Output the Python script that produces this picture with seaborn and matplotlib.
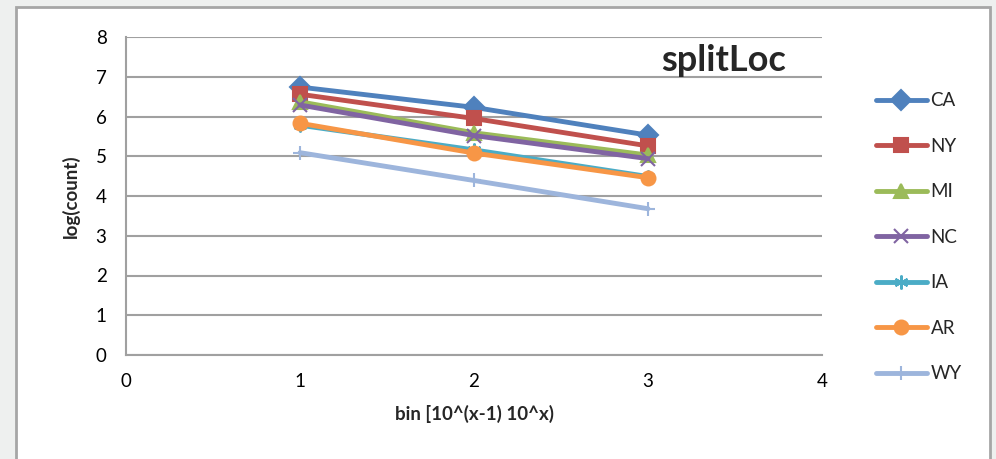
import matplotlib
matplotlib.use("Agg")
import matplotlib.pyplot as plt
from matplotlib.patches import Rectangle
import pandas as pd
import seaborn as sns

# Data: log(count) per bin for each state
bins = [1, 2, 3]
states = ["CA", "NY", "MI", "NC", "IA", "AR", "WY"]
ca = [6.74, 6.23, 5.53]
ny = [6.56, 5.95, 5.26]
mi = [6.37, 5.59, 5.03]
nc = [6.29, 5.52, 4.94]
ia = [5.78, 5.16, 4.49]
ar = [5.83, 5.08, 4.46]
wy = [5.09, 4.39, 3.68]
values = [ca, ny, mi, nc, ia, ar, wy]

colors = ["#4F81BD", "#C0504D", "#9BBB59", "#8064A2", "#4BACC6", "#F79646", "#9DB5DC"]
markers = ["D", "s", "^", "x", (6, 2, 0), "o", "+"]

sns.set_style("white")
plt.rcParams["font.family"] = ["Lato", "DejaVu Sans"]

fig = plt.figure(figsize=(9.96, 4.59), dpi=100, facecolor="#eef0ef")
# white chart panel with grey frame
panel = Rectangle((16 / 996, -0.05), (990 - 16) / 996, 1.05 - 7 / 459,
                  transform=fig.transFigure, facecolor="white",
                  edgecolor="#a6a6a6", linewidth=2, zorder=-10)
fig.add_artist(panel)

ax = fig.add_axes([126 / 996, 1 - 355 / 459, (822 - 126) / 996, (355 - 37) / 459])
ax.set_facecolor("white")
ax.set_zorder(1)

for st, vals, c, m in zip(states, values, colors, markers):
    df = pd.DataFrame({"bin": bins, "value": vals})
    sns.lineplot(data=df, x="bin", y="value", color=c, marker=m, label=st,
                 linewidth=3.5, markersize=10, markeredgewidth=1.5,
                 markeredgecolor=c, markerfacecolor=c, ax=ax)

ax.set_xlim(0, 4)
ax.set_ylim(0, 8)
ax.set_xticks([0, 1, 2, 3, 4])
ax.set_yticks(range(0, 9))
ax.grid(axis="y", color="#a0a0a0", linewidth=1.5)
ax.set_axisbelow(True)
for side in ["top", "right"]:
    ax.spines[side].set_visible(False)
for side in ["left", "bottom"]:
    ax.spines[side].set_color("#a0a0a0")
    ax.spines[side].set_linewidth(1.5)
ax.tick_params(axis="both", direction="out", color="#a0a0a0", width=1.5,
               labelsize=13.5, labelcolor="black")
ax.tick_params(axis="y", length=6, pad=8)
ax.tick_params(axis="x", length=5, pad=8)

ax.set_xlabel("bin [10^(x-1) 10^x)", fontsize=13.5, fontweight="bold", labelpad=11)
ax.set_ylabel("log(count)", fontsize=13.5, fontweight="bold", labelpad=11)

ax.text(0.859, 0.925, "splitLoc", transform=ax.transAxes, ha="center", va="center",
        fontsize=26, fontweight="bold")

handles, labels = ax.get_legend_handles_labels()
ax.legend(handles, labels, loc="upper left", bbox_to_anchor=(1.067, 0.85),
          frameon=False, fontsize=13.5, handlelength=2.7, handletextpad=0.2,
          labelspacing=1.52, borderaxespad=0)

fig.savefig("out.png", dpi=100, facecolor=fig.get_facecolor())
